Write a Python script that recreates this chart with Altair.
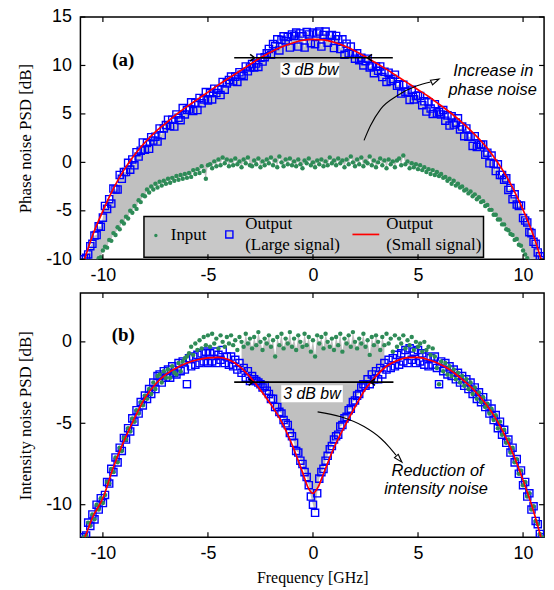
import altair as alt
import pandas as pd

# ---------------- data ----------------
freq = [
    -10.9, -10.8, -10.7, -10.6, -10.5, -10.4, -10.3, -10.2, -10.1, -10.0,
    -9.9, -9.8, -9.7, -9.6, -9.5, -9.4, -9.3, -9.2, -9.1, -9.0,
    -8.9, -8.8, -8.7, -8.6, -8.5, -8.4, -8.3, -8.2, -8.1, -8.0,
    -7.9, -7.8, -7.7, -7.6, -7.5, -7.4, -7.3, -7.2, -7.1, -7.0,
    -6.9, -6.8, -6.7, -6.6, -6.5, -6.4, -6.3, -6.2, -6.1, -6.0,
    -5.9, -5.8, -5.7, -5.6, -5.5, -5.4, -5.3, -5.2, -5.1, -5.0,
    -4.9, -4.8, -4.7, -4.6, -4.5, -4.4, -4.3, -4.2, -4.1, -4.0,
    -3.9, -3.8, -3.7, -3.6, -3.5, -3.4, -3.3, -3.2, -3.1, -3.0,
    -2.9, -2.8, -2.7, -2.6, -2.5, -2.4, -2.3, -2.2, -2.1, -2.0,
    -1.9, -1.8, -1.7, -1.6, -1.5, -1.4, -1.3, -1.2, -1.1, -1.0,
    -0.9, -0.8, -0.7, -0.6, -0.5, -0.4, -0.3, -0.2, -0.1, 0.0,
    0.1, 0.2, 0.3, 0.4, 0.5, 0.6, 0.7, 0.8, 0.9, 1.0,
    1.1, 1.2, 1.3, 1.4, 1.5, 1.6, 1.7, 1.8, 1.9, 2.0,
    2.1, 2.2, 2.3, 2.4, 2.5, 2.6, 2.7, 2.8, 2.9, 3.0,
    3.1, 3.2, 3.3, 3.4, 3.5, 3.6, 3.7, 3.8, 3.9, 4.0,
    4.1, 4.2, 4.3, 4.4, 4.5, 4.6, 4.7, 4.8, 4.9, 5.0,
    5.1, 5.2, 5.3, 5.4, 5.5, 5.6, 5.7, 5.8, 5.9, 6.0,
    6.1, 6.2, 6.3, 6.4, 6.5, 6.6, 6.7, 6.8, 6.9, 7.0,
    7.1, 7.2, 7.3, 7.4, 7.5, 7.6, 7.7, 7.8, 7.9, 8.0,
    8.1, 8.2, 8.3, 8.4, 8.5, 8.6, 8.7, 8.8, 8.9, 9.0,
    9.1, 9.2, 9.3, 9.4, 9.5, 9.6, 9.7, 9.8, 9.9, 10.0,
    10.1, 10.2, 10.3, 10.4, 10.5, 10.6, 10.7, 10.8, 10.9,
]

# (a) phase noise, input (green dots)
phase_in = [
    -13.0, -12.4, -12.3, -11.6, -11.5, -10.8, -10.7, -9.9, -9.8, -9.1,
    -8.7, -8.8, -8.0, -8.1, -7.3, -7.5, -6.7, -6.9, -6.1, -6.3,
    -5.6, -5.8, -5.0, -5.2, -4.5, -4.8, -3.9, -4.1, -3.4, -3.5,
    -2.8, -3.1, -2.5, -2.8, -2.2, -2.6, -2.0, -2.4, -1.9, -2.2,
    -1.7, -2.1, -1.6, -1.9, -1.4, -1.8, -1.3, -1.7, -1.2, -1.6,
    -1.1, -1.5, -0.8, -1.2, -0.7, -1.1, -0.4, -0.9, -1.7, -0.3,
    -0.2, -0.6, 0.1, -0.4, 0.3, -0.3, 0.5, -0.1, 0.3, -0.4,
    0.2, -0.3, 0.4, -0.2, 0.1, -0.5, 0.3, -0.1, 0.5, -0.3,
    -0.4, 0.2, -0.2, 0.4, -0.5, 0.1, -0.3, 0.3, -0.1, 0.5,
    -0.3, 0.2, -0.5, 0.6, 0.0, -0.4, 0.3, -0.2, 0.4, -0.3,
    0.1, -0.4, 0.3, -0.2, -0.6, 0.2, -0.1, 0.4, -0.3, 0.0,
    -0.5, 0.2, -0.2, 0.3, -0.4, 0.1, -0.3, 0.5, -0.1, 0.2,
    -0.3, 0.4, -0.1, 0.2, -0.5, 0.3, -0.2, 0.6, 0.0, -0.4,
    0.3, -0.2, 0.5, -0.4, 0.1, -0.1, 0.6, -0.3, 0.2, -0.5,
    0.0, 0.4, -0.3, 0.2, -0.6, 0.3, -0.2, 0.1, -0.5, 0.2,
    0.4, -0.3, 0.7, -0.2, 0.1, -0.6, -0.1, -0.5, -0.2, -0.7,
    -0.3, -0.8, -0.5, -1.0, -0.7, -1.2, -0.8, -1.3, -1.0, -1.4,
    -1.2, -1.6, -1.5, -1.9, -1.7, -2.2, -1.9, -2.4, -2.2, -2.6,
    -2.5, -2.9, -2.8, -3.2, -3.0, -3.5, -3.3, -3.8, -3.6, -4.1,
    -4.0, -4.5, -4.4, -4.9, -4.9, -5.4, -5.4, -5.9, -5.9, -6.4,
    -6.4, -6.9, -7.0, -7.4, -7.5, -8.0, -7.9, -8.5, -8.6, -9.1,
    -9.5, -9.9, -10.2, -10.7, -11.0, -11.5, -11.9, -12.4, -12.8,
]

# (a) phase noise, output large signal (blue squares)
phase_out = [
    -10.0, -9.85, -9.5, -8.65, -8.4, -7.55, -7.5, -6.6, -6.65, -5.7,
    -4.5, -4.8, -3.8, -4.25, -2.7, -2.8, -2.8, -1.3, -1.7, -1.0,
    -1.0, -0.05, -0.75, 0.3, -0.3, 1.05, 0.6, 1.2, 2.05, 1.3,
    2.0, 1.4, 2.6, 2.25, 2.65, 2.15, 3.5, 2.8, 3.5, 3.85,
    4.4, 3.75, 4.4, 3.7, 4.95, 4.6, 4.35, 5.6, 4.95, 5.4,
    5.45, 6.2, 5.3, 6.15, 5.4, 6.65, 6.1, 6.5, 7.25, 6.4,
    7.15, 6.5, 7.6, 7.15, 7.5, 6.95, 8.3, 7.5, 8.15, 8.5,
    8.85, 8.35, 8.85, 8.3, 9.3, 9.05, 8.9, 9.9, 9.4, 9.8,
    10.15, 9.8, 10.2, 9.85, 10.8, 10.4, 10.85, 11.25, 11.7, 11.1,
    12.2, 12.0, 12.7, 11.55, 12.65, 13.0, 12.5, 12.95, 11.85, 13.2,
    13.05, 13.4, 11.95, 13.3, 13.0, 11.85, 13.45, 13.2, 12.3, 13.4,
    12.2, 13.3, 13.5, 11.95, 13.15, 13.5, 12.35, 13.1, 13.15, 11.8,
    13.05, 12.7, 11.7, 12.7, 11.1, 12.25, 11.25, 11.95, 11.2, 10.7,
    11.25, 10.55, 10.8, 10.0, 10.45, 10.7, 9.8, 9.95, 9.2, 9.9,
    9.45, 9.9, 8.8, 9.35, 8.3, 9.25, 8.4, 8.6, 9.05, 7.9,
    8.05, 7.1, 8.0, 7.25, 7.3, 6.45, 7.5, 6.5, 6.85, 6.9,
    6.85, 5.9, 6.3, 5.25, 6.2, 5.55, 5.0, 6.0, 5.05, 5.2,
    4.95, 5.4, 4.3, 4.85, 3.8, 4.75, 3.9, 4.1, 4.55, 3.4,
    3.7, 2.7, 3.5, 2.65, 2.65, 1.7, 2.7, 1.6, 1.85, 1.8,
    1.85, 0.8, 1.0, -0.1, 0.7, -0.15, -0.9, -0.2, -1.3, -1.3,
    -1.8, -1.65, -2.85, -2.65, -3.8, -3.3, -4.35, -4.5, -4.45, -5.75,
    -6.0, -6.2, -7.2, -7.3, -8.2, -8.4, -9.3, -9.7, -10.1,
]

# (a) phase noise, output small signal (red line)
phase_small_f = [-10.9, -10.5, -10.0, -9.5, -9.0, -8.5, -8.0, -7.5, -7.0, -6.5,
                 -6.0, -5.5, -5.0, -4.5, -4.0, -3.5, -3.0, -2.5, -2.0, -1.5,
                 -1.0, -0.5, 0.0, 0.5, 1.0, 1.5, 2.0, 2.5, 3.0, 3.5,
                 4.0, 4.5, 5.0, 5.5, 6.0, 6.5, 7.0, 7.5, 8.0, 8.5,
                 9.0, 9.5, 10.0, 10.5, 10.9]
phase_small = [-10.2, -7.6, -5.0, -2.7, -0.8, 0.75, 2.05, 3.15, 4.05, 4.95,
               5.75, 6.5, 7.25, 8.0, 8.7, 9.4, 10.1, 10.8, 11.4, 11.9,
               12.3, 12.6, 12.7, 12.65, 12.4, 12.0, 11.5, 10.9, 10.25, 9.6,
               8.9, 8.2, 7.5, 6.8, 6.0, 5.2, 4.3, 3.3, 2.2, 0.9,
               -0.7, -2.6, -4.9, -7.6, -10.3]

# (b) intensity noise, input (green dots)
int_in = [
    -12.0, -11.9, -11.1, -11.3, -10.6, -10.9, -10.0, -10.3, -9.6, -9.9,
    -9.4, -8.6, -8.7, -7.8, -8.0, -7.1, -7.4, -6.5, -6.7, -5.9,
    -6.0, -5.3, -5.5, -4.7, -4.9, -4.2, -4.4, -3.7, -3.9, -3.3,
    -3.5, -2.9, -3.2, -2.5, -2.9, -2.1, -2.0, -2.5, -1.8, -2.2,
    -1.7, -2.2, -1.5, -1.9, -2.0, -1.3, -1.8, -1.2, -1.0, -0.9,
    -0.7, -0.3, -0.8, -0.1, -0.5, 0.1, -0.4, 0.3, -0.2, 0.4,
    -0.3, 0.5, -0.1, 0.2, -0.4, 0.4, 0.0, -0.3, 0.3, -0.1,
    0.4, -0.2, 0.1, -0.5, 0.3, 0.0, -0.3, 0.5, -0.1, 0.2,
    -0.4, 0.3, -0.2, 0.6, 0.0, -0.5, 0.2, -0.1, 0.4, -0.3,
    0.1, -0.9, 0.3, -0.2, 0.5, -0.4, 0.2, -0.1, 0.6, -0.3,
    0.2, -0.5, 0.4, 0.0, -0.3, 0.5, -0.2, 0.3, -0.6, 0.1,
    -0.9, 0.4, -0.1, 0.3, -0.4, 0.5, 0.0, -0.3, 0.2, -0.5,
    0.3, -0.2, 0.5, -0.6, 0.2, -0.1, 0.4, -0.3, 0.6, 0.0,
    -0.4, 0.2, -0.1, 0.5, -0.3, 0.1, -0.8, 0.3, -0.2, 0.4,
    0.0, -0.5, 0.3, -0.2, 0.5, -0.1, 0.2, -0.6, 0.4, -0.3,
    0.2, -0.1, 0.4, -0.4, 0.1, -0.2, 0.3, -0.5, 0.0, -0.3,
    -0.1, -0.6, 0.0, -0.5, -0.3, -0.8, -0.4, -0.9, -1.6, -2.6,
    -1.2, -1.8, -1.3, -2.0, -1.5, -2.1, -1.7, -2.3, -1.9, -2.5,
    -2.1, -2.7, -2.3, -2.9, -2.5, -3.2, -2.8, -3.5, -3.1, -3.7,
    -3.4, -4.0, -3.8, -4.4, -4.1, -4.8, -4.5, -5.3, -4.9, -5.7,
    -5.4, -6.2, -6.0, -6.8, -6.5, -7.4, -7.2, -8.1, -7.9, -8.8,
    -8.6, -9.5, -9.3, -10.3, -10.1, -11.0, -11.2, -11.8, -12.0,
]

# (b) intensity noise, output large signal (blue squares)
int_out = [
    -12.0, -11.9, -11.1, -11.3, -10.6, -10.9, -10.0, -10.3, -9.6, -9.9,
    -9.4, -8.6, -8.7, -7.8, -8.0, -7.1, -7.4, -6.5, -6.7, -5.9,
    -6.0, -5.3, -5.5, -4.7, -4.9, -4.2, -4.4, -3.7, -3.9, -3.3,
    -3.5, -2.9, -3.2, -2.5, -2.9, -2.1, -2.0, -2.5, -1.8, -2.2,
    -1.7, -2.2, -1.5, -1.9, -2.0, -1.3, -1.8, -1.2, -1.7, -2.6,
    -1.0, -1.5, -0.9, -1.4, -0.8, -1.3, -0.7, -1.2, -0.6, -1.3,
    -0.7, -1.2, -0.6, -1.3, -0.8, -1.1, -0.5, -1.3, -0.9, -1.4,
    -0.9, -1.5, -1.1, -1.7, -1.3, -1.9, -1.6, -2.2, -1.8, -2.4,
    -2.1, -2.3, -2.4, -2.5, -2.6, -2.8, -2.7, -3.0, -3.2, -3.5,
    -3.5, -4.0, -4.0, -4.3, -4.4, -4.8, -5.0, -5.1, -5.6, -5.8,
    -6.2, -6.7, -6.8, -7.3, -7.5, -8.0, -8.3, -8.8, -9.5, -10.0,
    -10.5, -9.3, -8.4, -8.0, -7.8, -7.3, -7.0, -6.6, -6.4, -6.0,
    -5.8, -5.7, -5.2, -5.1, -4.7, -4.6, -4.2, -4.1, -3.7, -3.6,
    -3.3, -3.2, -2.8, -2.6, -2.7, -2.3, -2.6, -2.0, -2.3, -1.8,
    -2.3, -1.6, -2.0, -1.3, -1.7, -1.1, -1.6, -1.0, -1.5, -0.8,
    -1.4, -0.7, -1.2, -0.5, -1.3, -0.4, -1.1, -0.6, -1.3, -0.5,
    -1.2, -0.7, -1.4, -0.9, -1.5, -1.0, -1.4, -0.9, -1.6, -2.6,
    -1.2, -1.8, -1.3, -2.0, -1.5, -2.1, -1.7, -2.3, -1.9, -2.5,
    -2.1, -2.7, -2.3, -2.9, -2.5, -3.2, -2.8, -3.5, -3.1, -3.7,
    -3.4, -4.0, -3.8, -4.4, -4.1, -4.8, -4.5, -5.3, -4.9, -5.7,
    -5.4, -6.2, -6.0, -6.8, -6.5, -7.4, -7.2, -8.1, -7.9, -8.8,
    -8.6, -9.5, -9.3, -10.3, -10.1, -11.0, -11.2, -11.8, -12.0,
]

# (b) intensity noise, output small signal (red line)
int_small_f = [-10.85, -10.5, -10.0, -9.5, -9.0, -8.5, -8.0, -7.5, -7.0, -6.5,
               -6.0, -5.5, -5.0, -4.5, -4.0, -3.5, -3.0, -2.5, -2.0, -1.5,
               -1.0, -0.5, -0.25, 0.0, 0.25, 0.5, 1.0, 1.5, 2.0, 2.5,
               3.0, 3.5, 4.0, 4.5, 5.0, 5.5, 6.0, 6.5, 7.0, 7.5,
               8.0, 8.5, 9.0, 9.5, 10.0, 10.5, 10.85]
int_small = [-12.0, -10.8, -9.6, -7.7, -6.1, -4.7, -3.45, -2.6, -2.0, -1.6,
             -1.3, -1.1, -0.98, -0.95, -1.1, -1.5, -2.15, -2.95, -3.85, -4.9,
             -6.3, -8.0, -8.9, -9.3, -8.9, -8.1, -6.5, -5.2, -4.0, -2.9,
             -2.1, -1.5, -1.15, -0.97, -0.95, -1.1, -1.35, -1.7, -2.2, -2.75,
             -3.45, -4.3, -5.4, -6.8, -8.5, -10.4, -12.0]

x_ticks = [-10, -5, 0, 5, 10]
phase_ticks = [-10, -5, 0, 5, 10, 15]
int_ticks = [-10, -5, 0]

assert len(freq) == 219
for lst in (phase_in, phase_out, int_in, int_out):
    assert len(lst) == len(freq), len(lst)
assert len(phase_small_f) == len(phase_small)
assert len(int_small_f) == len(int_small)

# ---------------- styling ----------------
W = 467
H_A = 244
H_B = 246
TICK = 5
GREEN = "#2e8b57"
BLUE = "#0000ff"
RED = "#ff0000"
GREY = "#c0c0c0"
SANS = "Liberation Sans"
SERIF = "Liberation Serif"

xs = alt.Scale(domain=[-11.07, 11.0], nice=False, zero=False)
ys_a = alt.Scale(domain=[-10, 15], nice=False, zero=False)
ys_b = alt.Scale(domain=[-12, 3], nice=False, zero=False)
one = alt.Data(values=[{"k": 0}])
LABEL_EXPR = "'' + datum.value"

meas_a = pd.DataFrame({"f": freq, "inp": phase_in, "out": phase_out})
small_a = pd.DataFrame({"f": phase_small_f, "v": phase_small})
meas_b = pd.DataFrame({"f": freq, "inp": int_in, "out": int_out})
small_b = pd.DataFrame({"f": int_small_f, "v": int_small})


def frame_ticks(yticks, h):
    xt = pd.DataFrame({"t": x_ticks})
    yt = pd.DataFrame({"t": yticks})
    rule = dict(color="black", strokeWidth=1.2)
    return [
        alt.Chart(xt).mark_rule(**rule).encode(
            x=alt.X("t:Q"), y=alt.value(0), y2=alt.value(TICK)),
        alt.Chart(xt).mark_rule(**rule).encode(
            x=alt.X("t:Q"), y=alt.value(h - TICK), y2=alt.value(h)),
        alt.Chart(yt).mark_rule(**rule).encode(
            y=alt.Y("t:Q"), x=alt.value(0), x2=alt.value(TICK)),
        alt.Chart(yt).mark_rule(**rule).encode(
            y=alt.Y("t:Q"), x=alt.value(W - TICK), x2=alt.value(W)),
    ]


def txt(x, y, s, size=16.5, italic=True, bold=False, font=SANS):
    return alt.Chart(one).mark_text(
        font=font, fontSize=size, fontStyle="italic" if italic else "normal",
        fontWeight="bold" if bold else "normal", align="center",
        baseline="middle", color="black",
    ).encode(x=alt.XDatum(x), y=alt.YDatum(y), text=alt.value(s))


def bw_marker(x1, x2, y, left_tip, right_tip, box):
    chev = "M -1 -0.75 L 0 0 L -1 0.75"
    return [
        alt.Chart(one).mark_rect(color="white").encode(
            x=alt.XDatum(box[0]), x2=alt.X2Datum(box[1]),
            y=alt.YDatum(box[2]), y2=alt.Y2Datum(box[3])),
        alt.Chart(one).mark_rule(color="black", strokeWidth=1.6).encode(
            x=alt.XDatum(x1), x2=alt.X2Datum(x2), y=alt.YDatum(y)),
        alt.Chart(one).mark_point(shape=chev, filled=False, color="black",
                                  strokeWidth=1.5, size=80, opacity=1).encode(
            x=alt.XDatum(left_tip), y=alt.YDatum(y)),
        alt.Chart(one).mark_point(shape=chev, filled=False, color="black",
                                  strokeWidth=1.5, size=80, opacity=1, angle=180).encode(
            x=alt.XDatum(right_tip), y=alt.YDatum(y)),
    ]


def curved_arrow(fs, vs, head, angle):
    path = pd.DataFrame({"f": fs, "v": vs, "i": list(range(len(fs)))})
    tri = "M -1 -0.6 L 1 0 L -1 0.6 Z"
    return [
        alt.Chart(path).mark_line(color="black", strokeWidth=1.1, interpolate="monotone").encode(
            x=alt.X("f:Q"), y=alt.Y("v:Q"), order="i:Q"),
        alt.Chart(one).mark_point(shape=tri, filled=True, fill="white", stroke="black",
                                  strokeWidth=1.1, size=70, opacity=1, angle=angle).encode(
            x=alt.XDatum(head[0]), y=alt.YDatum(head[1])),
    ]


def data_layers(meas, small, ys, yticks, ytitle, xtitle, fill_filter=None):
    fill = alt.Chart(meas).mark_area(color=GREY, clip=True)
    if fill_filter:
        fill = fill.transform_filter(fill_filter)
    fill = fill.encode(
        x=alt.X("f:Q", scale=xs, axis=alt.Axis(values=x_ticks, title=xtitle,
                                                 labelExpr=LABEL_EXPR, labelFlush=False)),
        y=alt.Y("inp:Q", scale=ys, axis=alt.Axis(values=yticks, title=ytitle,
                                                   labelExpr=LABEL_EXPR)),
        y2="out:Q",
    )
    blue = alt.Chart(meas).mark_point(shape="square", filled=False, color=BLUE,
                                      size=52, strokeWidth=1.4, opacity=1, clip=True).encode(
        x=alt.X("f:Q"), y=alt.Y("out:Q"))
    green = alt.Chart(meas).mark_circle(color=GREEN, size=20, opacity=1, clip=True).encode(
        x=alt.X("f:Q"), y=alt.Y("inp:Q"))
    red = alt.Chart(small).mark_line(color=RED, strokeWidth=1.7, interpolate="monotone",
                                     clip=True).encode(
        x=alt.X("f:Q"), y=alt.Y("v:Q"))
    return [fill, blue, green, red]


def legend_layers():
    lt = dict(font=SERIF, fontSize=17, align="left", baseline="middle", color="black")
    return [
        alt.Chart(one).mark_rect(fill="#c8c8c8", stroke="black", strokeWidth=1.5).encode(
            x=alt.value(64), x2=alt.value(406), y=alt.value(201), y2=alt.value(242)),
        alt.Chart(one).mark_circle(color=GREEN, size=12, opacity=1).encode(
            x=alt.value(76), y=alt.value(220)),
        alt.Chart(one).mark_text(**lt).encode(x=alt.value(91), y=alt.value(220), text=alt.value("Input")),
        alt.Chart(one).mark_point(shape="square", filled=False, color=BLUE, size=52,
                                  strokeWidth=1.4, opacity=1).encode(
            x=alt.value(150), y=alt.value(219)),
        alt.Chart(one).mark_text(**lt).encode(x=alt.value(166), y=alt.value(209), text=alt.value("Output")),
        alt.Chart(one).mark_text(**lt).encode(x=alt.value(166), y=alt.value(230), text=alt.value("(Large signal)")),
        alt.Chart(one).mark_rule(color=RED, strokeWidth=1.7).encode(
            x=alt.value(274), x2=alt.value(301), y=alt.value(219)),
        alt.Chart(one).mark_text(**lt).encode(x=alt.value(308), y=alt.value(209), text=alt.value("Output")),
        alt.Chart(one).mark_text(**lt).encode(x=alt.value(308), y=alt.value(230), text=alt.value("(Small signal)")),
    ]


# ---------------- panel (a) ----------------
top_layers = data_layers(meas_a, small_a, ys_a, phase_ticks, "Phase noise PSD [dB]", None)
top_layers += bw_marker(-3.75, 3.8, 10.8, -2.78, 2.6, (-1.55, 1.25, 10.3, 8.75))
top_layers += [txt(-0.15, 9.5, "3 dB bw", size=16)]
top_layers += [txt(-9.03, 10.6, "(a)", size=19, italic=False, bold=True, font=SERIF)]
top_layers += [txt(8.58, 9.42, "Increase in"), txt(8.55, 7.5, "phase noise")]
top_layers += curved_arrow([2.43, 2.74, 3.22, 4.0, 4.95, 5.6],
                           [2.27, 3.8, 5.5, 6.87, 7.9, 8.3], (5.82, 8.42), 335)
top_layers += legend_layers()
top_layers += frame_ticks(phase_ticks, H_A)
top = alt.layer(*top_layers).properties(width=W, height=H_A)

# ---------------- panel (b) ----------------
bot_layers = data_layers(meas_b, small_b, ys_b, int_ticks, "Intensity noise PSD [dB]",
                         "Frequency [GHz]", fill_filter="abs(datum.f) <= 3.4")
bot_layers += bw_marker(-3.75, 3.83, -2.47, -2.85, 2.74, (-1.51, 1.42, -2.67, -3.71))
bot_layers += [txt(-0.05, -3.19, "3 dB bw", size=16)]
bot_layers += [txt(-9.03, 0.44, "(b)", size=19, italic=False, bold=True, font=SERIF)]
bot_layers += [txt(5.93, -7.91, "Reduction of"), txt(5.86, -9.05, "intensity noise")]
bot_layers += curved_arrow([0.22, 1.32, 2.43, 3.22, 3.61, 3.95],
                           [-4.3, -4.6, -5.2, -5.92, -6.43, -6.95], (4.1, -7.2), 48)
bot_layers += frame_ticks(int_ticks, H_B)
bottom = alt.layer(*bot_layers).properties(width=W, height=H_B)

chart = alt.vconcat(top, bottom, spacing=6).properties(
    padding={"left": 16, "top": 5, "right": 8, "bottom": 4}
).configure_axis(
    domain=False, ticks=False, tickSize=0, grid=False,
    labelFont=SANS, labelFontSize=18, labelColor="black",
    titleFont=SERIF, titleFontSize=17, titleFontWeight="normal", titleColor="black",
).configure_axisX(labelPadding=7, titlePadding=8, titleFontSize=16).configure_axisY(
    labelPadding=9, titlePadding=11
).configure_view(stroke="black", strokeWidth=1.5)

chart.save("out.html", embed_options={"renderer": "svg", "actions": False})
